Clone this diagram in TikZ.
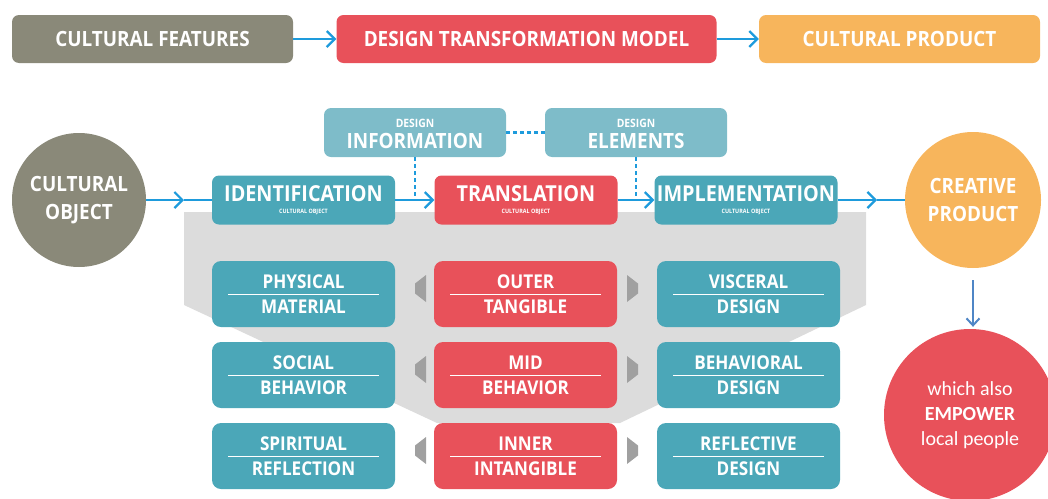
\documentclass[tikz,border=0pt]{standalone}
\usepackage{fontspec}
\setmainfont{Open Sans}
\newfontfamily\headfont[FakeStretch=0.9]{Open Sans}
\newfontfamily\bodyfont{Carlito}
\usetikzlibrary{arrows.meta,positioning,calc}

\definecolor{olive}{HTML}{8A8979}
\definecolor{coral}{HTML}{E8515A}
\definecolor{amber}{HTML}{F7B55C}
\definecolor{boxteal}{HTML}{4BA7B8}
\definecolor{lightteal}{HTML}{7EBCC9}
\definecolor{flowblue}{HTML}{1E9BDC}
\definecolor{downblue}{HTML}{4F86C6}
\definecolor{grayzone}{HTML}{DCDCDC}
\definecolor{graytip}{HTML}{A0A0A0}

\begin{document}
\begin{tikzpicture}[x=1pt, y=-1pt,
  head/.style={text=white, inner sep=0pt, font=\headfont\bfseries\fontsize{21}{21}\selectfont},
  topbox/.style={head, rounded corners=7pt, minimum height=48pt},
  stage/.style={head, fill=boxteal, rounded corners=7pt, minimum width=183pt, minimum height=49pt,
    text height=16pt, text depth=13pt, font=\headfont\bfseries\fontsize{22}{22}\selectfont,
    label={[sub]south:CULTURAL OBJECT}},
  sub/.style={anchor=south, yshift=10pt, inner sep=0pt, text=white, font=\headfont\bfseries\fontsize{6}{6}\selectfont},
  info/.style={head, fill=lightteal, rounded corners=7pt, minimum width=182pt, minimum height=49pt,
    text height=31pt, text depth=0pt, label={[sup]north:DESIGN}},
  sup/.style={anchor=north, yshift=-11pt, inner sep=0pt, text=white, font=\headfont\bfseries\fontsize{11.5}{11.5}\selectfont},
  cell/.style={fill=boxteal, rounded corners=9pt, minimum width=183pt, minimum height=66pt, inner sep=0pt,
    text=white, align=center, font=\headfont\bfseries\fontsize{19}{25}\selectfont,
    path picture={\draw[white, line width=0.8pt] ([xshift=16pt]path picture bounding box.west)
      -- ([xshift=-16pt]path picture bounding box.east);}},
  disc/.style={circle, inner sep=0pt, text=white, align=center, font=\headfont\bfseries\fontsize{21}{28}\selectfont},
  flow/.style={draw=flowblue, line width=2.2pt, -{Straight Barb[length=8pt, width=16pt]}},
  pipe/.style={draw=flowblue, line width=2.2pt},
  link/.style={draw=flowblue, line width=2.2pt, dash pattern=on 4pt off 3pt}
]
  \useasboundingbox (0,0) rectangle (1048,498);

  % Top row
  \node[topbox, fill=olive, minimum width=281pt] (feat) at (152.5,39) {CULTURAL FEATURES};
  \node[topbox, fill=coral, minimum width=380pt] (model) at (526.5,39) {DESIGN TRANSFORMATION MODEL};
  \node[topbox, fill=amber, minimum width=281pt] (product) at (899.5,39) {CULTURAL PRODUCT};
  \draw[flow] (feat) -- (model);
  \draw[flow] (model) -- (product);

  % Gray funnel behind the levels
  \fill[grayzone] (184,212) -- (866,212) -- (866,305) -- (620,423) -- (437,423) -- (184,305) -- cycle;

  % Process row
  \node[disc, fill=olive, minimum size=134pt] (obj) at (79,200) {CULTURAL\\OBJECT};
  \node[stage] (ident) at (303.5,200) {IDENTIFICATION};
  \node[stage, fill=coral] (trans) at (526,200) {TRANSLATION};
  \node[stage] (impl) at (746,200) {IMPLEMENTATION};
  \node[disc, fill=amber, minimum size=136pt] (prod) at (973,200) {CREATIVE\\PRODUCT};
  \node[info] (info) at (415,132.5) {INFORMATION};
  \node[info] (elem) at (636,132.5) {ELEMENTS};

  \coordinate (objtip) at (184,200);
  \coordinate (prodtip) at (877,200);
  \draw[flow] (obj) -- (objtip);
  \draw[pipe] (objtip) -- (ident);
  \draw[flow] (ident) -- (trans);
  \draw[flow] (trans) -- (impl);
  \draw[flow] (impl) -- (prodtip);
  \draw[pipe] (prodtip) -- (prod);
  \draw[link] (info) -- (elem);
  \draw[link] (info) -- (info |- ident);
  \draw[link] (elem) -- (elem |- impl);

  % Levels
  \node[cell] (phys) at (303.5,294) {PHYSICAL\\MATERIAL};
  \node[cell, fill=coral] (outer) at (525.5,294) {OUTER\\TANGIBLE};
  \node[cell] (visc) at (748.5,294) {VISCERAL\\DESIGN};
  \node[cell] (soc) at (303.5,375) {SOCIAL\\BEHAVIOR};
  \node[cell, fill=coral] (mid) at (525.5,375) {MID\\BEHAVIOR};
  \node[cell] (behav) at (748.5,375) {BEHAVIORAL\\DESIGN};
  \node[cell] (spir) at (303.5,456) {SPIRITUAL\\REFLECTION};
  \node[cell, fill=coral] (inner) at (525.5,456) {INNER\\INTANGIBLE};
  \node[cell] (refl) at (748.5,456) {REFLECTIVE\\DESIGN};

  \foreach \y in {288.5,369.5,450.5} {
    \fill[graytip] (426,\y-13.5) -- (415,\y-5) -- (415,\y+5) -- (426,\y+13.5) -- cycle;
    \fill[graytip] (627,\y-13.5) -- (638,\y-5) -- (638,\y+5) -- (627,\y+13.5) -- cycle;
  }

  % Outcome
  \node[circle, fill=coral, minimum size=172pt, inner sep=0pt, text=white, align=center,
    font=\bodyfont\fontsize{20}{25}\selectfont] (emp) at (970,415) {which also\\\textbf{EMPOWER}\\local people};
  \draw[downblue, line width=2pt, -{Straight Barb[length=7pt, width=13pt]}, shorten <=12pt, shorten >=2pt] (prod) -- (prod |- emp.north);
\end{tikzpicture}
\end{document}
